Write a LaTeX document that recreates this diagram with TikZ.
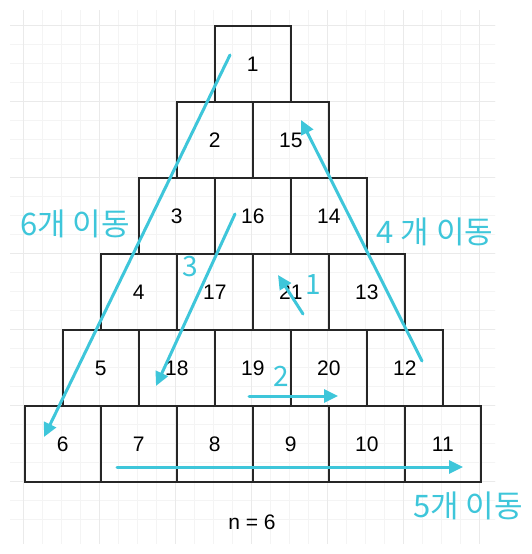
\documentclass[tikz,border=0pt]{standalone}
\usepackage{fontspec}
\setmainfont{Liberation Sans}
\newfontfamily\krfont{Noto Sans CJK KR}
\usetikzlibrary{arrows.meta}
\definecolor{cy}{HTML}{3EC6DA}
\definecolor{gminor}{HTML}{F4F4F4}
\definecolor{gmajor}{HTML}{EAEAEA}
\tikzset{
  cell/.style={draw=black!85, line width=1.6pt, minimum width=76pt, minimum height=76pt, inner sep=0pt, anchor=north west, font=\fontsize{21}{25}\selectfont, text depth=0pt},
  mv/.style={draw=cy, line width=3pt, line cap=round, -{Triangle[length=14pt,width=13pt]}},
  lbl/.style={text=cy, font=\krfont\fontsize{31}{36}\selectfont, inner sep=0pt},
  dig/.style={text=cy, font=\krfont\fontsize{28}{32}\selectfont, inner sep=0pt},
}
\begin{document}
\begin{tikzpicture}[x=1pt,y=-1pt]
\useasboundingbox (0,0) rectangle (531,554);
\fill[white] (0,0) rectangle (531,554);
% grid
\begin{scope}
\clip (10,10) rectangle (495,543);
\foreach \k in {-1,...,26} {
  \draw[gminor, line width=0.8pt] ({23+19*\k},0) -- ({23+19*\k},554);
  \draw[gminor, line width=0.8pt] (0,{25+19*\k}) -- (531,{25+19*\k});
}
\foreach \k in {-1,...,7} {
  \draw[gmajor, line width=0.9pt] ({23+76*\k},0) -- ({23+76*\k},554);
  \draw[gmajor, line width=0.9pt] (0,{25+76*\k}) -- (531,{25+76*\k});
}
\end{scope}
% boxes
\node[cell] (b1) at (214,25) {1};
\node[cell] (b2) at (176,101) {2};
\node[cell] (b15) at (252,101) {15};
\node[cell] (b3) at (138,177) {3};
\node[cell] (b16) at (214,177) {16};
\node[cell] (b14) at (290,177) {14};
\node[cell] (b4) at (100,253) {4};
\node[cell] (b17) at (176,253) {17};
\node[cell] (b21) at (252,253) {21};
\node[cell] (b13) at (328,253) {13};
\node[cell] (b5) at (62,329) {5};
\node[cell] (b18) at (138,329) {18};
\node[cell] (b19) at (214,329) {19};
\node[cell] (b20) at (290,329) {20};
\node[cell] (b12) at (366,329) {12};
\node[cell] (b6) at (24,405) {6};
\node[cell] (b7) at (100,405) {7};
\node[cell] (b8) at (176,405) {8};
\node[cell] (b9) at (252,405) {9};
\node[cell] (b10) at (328,405) {10};
\node[cell] (b11) at (404,405) {11};
% arrow end points
\coordinate (a6s) at (230,55);  \coordinate (a6e) at (44,437);
\coordinate (a3s) at (235,214); \coordinate (a3e) at (156,386);
\coordinate (a4s) at (422,361); \coordinate (a4e) at (301,120);
\coordinate (a1s) at (303,314); \coordinate (a1e) at (278,275);
\coordinate (a2s) at (249,396); \coordinate (a2e) at (338,396);
\coordinate (a5s) at (117,467); \coordinate (a5e) at (463,467);
\draw[mv] (a6s) -- (a6e);
\draw[mv] (a3s) -- (a3e);
\draw[mv] (a4s) -- (a4e);
\draw[mv] (a1s) -- (a1e);
\draw[mv] (a2s) -- (a2e);
\draw[mv] (a5s) -- (a5e);
% labels
\node[lbl] (l6) at (75,224) {6개 이동};
\node[lbl] (l4) at (435,232) {4 개 이동};
\node[lbl] (l5) at (468,506) {5개 이동};
\node[dig] (d3) at (190,267) {3};
\node[dig] (d1) at (313,285) {1};
\node[dig] (d2) at (281,376) {2};
\node[font=\fontsize{21}{25}\selectfont] (n) at (252,522) {n = 6};
\end{tikzpicture}
\end{document}
